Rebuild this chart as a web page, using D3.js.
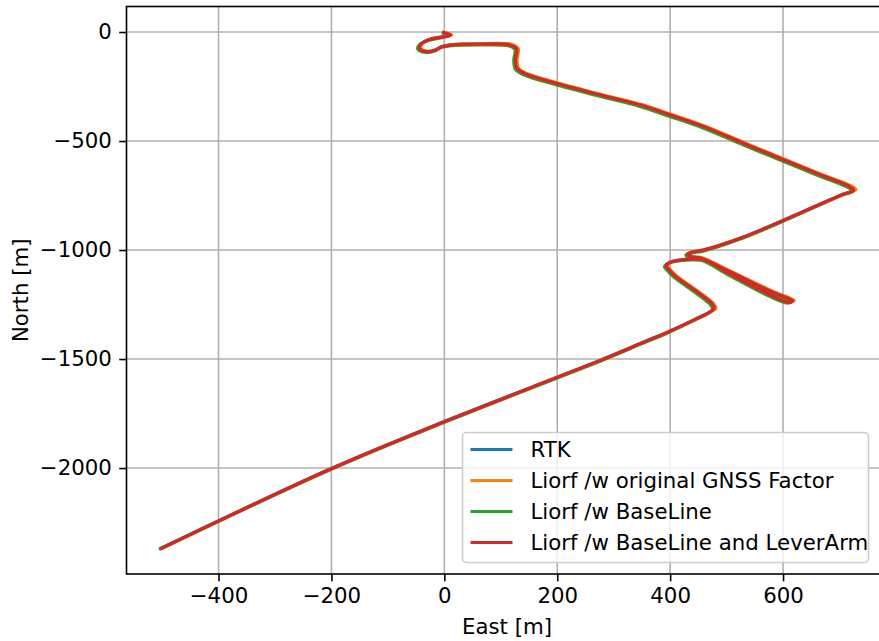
<!DOCTYPE html>
<html>
<head>
<meta charset="utf-8">
<script src="https://cdn.jsdelivr.net/npm/d3@7"></script>
<style>
  body { margin: 0; background: #fff; }
  svg { display: block; font-family: "DejaVu Sans", sans-serif; }
</style>
</head>
<body>
<div class="chart-container"></div>
<script>
// tick values
const eastTicks = [-400, -200, 0, 200, 400, 600]
const northTicks = [0, -500, -1000, -1500, -2000]

// trajectories, [east, north] in metres
const rtk = [
  [-1,-3],[11,-14],[-7,-24],[-25,-33],[-41,-55],[-44,-75],[-31,-90],[-16,-83],[-4,-67],[11,-60],
  [70,-55],[117,-60],[128,-78],[126,-128],[129,-167],[147,-195],[200,-237],[277,-290],[348,-336],[401,-382],
  [460,-435],[531,-512],[602,-588],[667,-657],[716,-707],[725,-726],[707,-744],[602,-863],[525,-946],[459,-1001],
  [441,-1009],[431,-1019],[436,-1031],[454,-1038],[507,-1102],[578,-1190],[612,-1226],[617,-1234],[609,-1240],[576,-1205],
  [505,-1109],[458,-1043],[432,-1043],[400,-1057],[393,-1073],[398,-1091],[407,-1116],[475,-1249],[478,-1269],[470,-1286],
  [448,-1314],[401,-1371],[348,-1429],[277,-1506],[-2,-1789],[-200,-2002],[-503,-2369]
]
const liorfOriginal = [
  [0,-1],[13,-12],[-5,-22],[-23,-31],[-39,-53],[-42,-73],[-29,-88],[-14,-81],[-2,-65],[13,-58],
  [72,-53],[120,-57],[131,-76],[129,-126],[131,-165],[149,-193],[202,-234],[279,-287],[350,-333],[403,-379],
  [462,-432],[533,-509],[604,-585],[669,-654],[719,-704],[729,-724],[710,-742],[604,-860],[527,-943],[461,-998],
  [443,-1006],[433,-1016],[438,-1028],[456,-1035],[509,-1099],[580,-1187],[614,-1223],[620,-1232],[611,-1238],[578,-1202],
  [507,-1106],[460,-1040],[434,-1040],[402,-1054],[395,-1070],[400,-1088],[409,-1113],[477,-1246],[481,-1267],[472,-1283],
  [450,-1311],[403,-1368],[350,-1426],[279,-1503],[1,-1786],[-197,-1999],[-498,-2365]
]
const liorfBaseline = [
  [-2,-5],[9,-17],[-9,-28],[-27,-38],[-44,-58],[-47,-78],[-33,-94],[-17,-87],[-6,-71],[9,-64],
  [69,-59],[115,-64],[125,-80],[123,-130],[126,-171],[144,-200],[198,-242],[275,-295],[346,-341],[399,-387],
  [458,-440],[529,-517],[600,-593],[665,-662],[714,-712],[723,-731],[705,-748],[600,-868],[523,-951],[457,-1006],
  [439,-1013],[428,-1022],[433,-1035],[451,-1042],[505,-1107],[576,-1195],[610,-1230],[615,-1238],[607,-1244],[574,-1210],
  [503,-1114],[456,-1048],[430,-1047],[397,-1060],[390,-1076],[395,-1094],[405,-1121],[472,-1253],[475,-1273],[467,-1290],
  [446,-1318],[399,-1376],[346,-1434],[275,-1511],[-3,-1794],[-201,-2007],[-502,-2370]
]
const liorfLeverArm = [
  [-1,-3],[11,-14],[-7,-24],[-25,-33],[-41,-55],[-44,-75],[-31,-90],[-16,-83],[-4,-67],[11,-60],
  [70,-55],[117,-60],[128,-78],[126,-128],[129,-167],[147,-195],[200,-236],[277,-289],[348,-335],[401,-381],
  [460,-434],[531,-511],[602,-587],[667,-656],[716,-706],[725,-725],[707,-743],[602,-862],[525,-945],[459,-1000],
  [441,-1008],[431,-1018],[436,-1030],[454,-1037],[507,-1101],[578,-1189],[612,-1225],[617,-1233],[609,-1239],[576,-1204],
  [505,-1108],[458,-1042],[432,-1042],[400,-1056],[393,-1072],[398,-1090],[407,-1115],[475,-1248],[478,-1268],[470,-1285],
  [448,-1313],[401,-1370],[348,-1428],[277,-1505],[-1,-1788],[-199,-2001],[-500,-2367]
]

const seriesNames = ["RTK", "Liorf /w original GNSS Factor", "Liorf /w BaseLine", "Liorf /w BaseLine and LeverArm"]
const seriesColors = ["#1f77b4", "#ff7f0e", "#2ca02c", "#d62728"]
const seriesData = [rtk, liorfOriginal, liorfBaseline, liorfLeverArm]

function createChart(){
  var width = 879, height = 641
  var margin = {top: 6.5, right: -8.5, bottom: 67, left: 126.5}
  var fs = 21.3

  const svg = d3.select(".chart-container").append("svg")
    .attr("width", width)
    .attr("height", height)

  //Scales: the right spine sits just beyond the picture
  const x = d3.scaleLinear()
    .domain([-563, 785])
    .range([margin.left, width - margin.right])
  const y = d3.scaleLinear()
    .domain([117, -2486])
    .range([margin.top, height - margin.bottom])

  const fmt = d => d < 0 ? "\u2212" + Math.abs(d) : String(d)

  //Grid
  svg.append("g")
    .selectAll("line.gx").data(eastTicks).join("line")
    .attr("x1", d => x(d)).attr("x2", d => x(d))
    .attr("y1", y.range()[0]).attr("y2", y.range()[1])
    .attr("stroke", "#b0b0b0").attr("stroke-width", 1.6)
  svg.append("g")
    .selectAll("line.gy").data(northTicks).join("line")
    .attr("x1", x.range()[0]).attr("x2", x.range()[1])
    .attr("y1", d => y(d)).attr("y2", d => y(d))
    .attr("stroke", "#b0b0b0").attr("stroke-width", 1.6)

  //Trajectories
  const line = d3.line()
    .x(d => x(d[0]))
    .y(d => y(d[1]))
    .curve(d3.curveCatmullRom.alpha(0.5))

  const plot = svg.append("g")
  seriesData.forEach((s, i) => {
    plot.append("path")
      .datum(s)
      .attr("fill", "none")
      .attr("stroke", seriesColors[i])
      .attr("stroke-width", 3.2)
      .attr("stroke-linejoin", "round")
      .attr("stroke-linecap", "square")
      .attr("d", line)
  })

  //Axes
  const xAxis = svg.append("g")
    .attr("transform", `translate(0,${y.range()[1]})`)
    .call(d3.axisBottom(x).tickValues(eastTicks).tickFormat(fmt).tickSize(7.3).tickPadding(6.5).tickSizeOuter(0))
  const yAxis = svg.append("g")
    .attr("transform", `translate(${x.range()[0]},0)`)
    .call(d3.axisLeft(y).tickValues(northTicks).tickFormat(fmt).tickSize(7.3).tickPadding(7.3).tickSizeOuter(0))

  ;[xAxis, yAxis].forEach(g => {
    g.selectAll("text").attr("font-size", fs).attr("font-family", "DejaVu Sans").attr("fill", "#000")
    g.selectAll(".tick line").attr("stroke", "#000").attr("stroke-width", 1.6)
    g.select(".domain").remove()
  })

  //Spines
  svg.append("rect")
    .attr("x", x.range()[0]).attr("y", y.range()[0])
    .attr("width", x.range()[1] - x.range()[0])
    .attr("height", y.range()[1] - y.range()[0])
    .attr("fill", "none").attr("stroke", "#000").attr("stroke-width", 1.6)

  //Axis labels
  svg.append("text")
    .attr("x", (x.range()[0] + x.range()[1]) / 2)
    .attr("y", 634)
    .attr("text-anchor", "middle")
    .attr("font-size", fs)
    .text("East [m]")
  svg.append("text")
    .attr("transform", `translate(28,${(y.range()[0] + y.range()[1]) / 2}) rotate(-90)`)
    .attr("text-anchor", "middle")
    .attr("font-size", fs)
    .text("North [m]")

  //Legend
  const lg = svg.append("g").attr("transform", "translate(462.5,432.5)")
  lg.append("rect")
    .attr("width", 406).attr("height", 130)
    .attr("rx", 4.2)
    .attr("fill", "#fff").attr("fill-opacity", 0.8)
    .attr("stroke", "#cccccc").attr("stroke-width", 1.6)
  seriesNames.forEach((name, i) => {
    const ry = 17 + i * 31
    lg.append("line")
      .attr("x1", 8).attr("x2", 50)
      .attr("y1", ry).attr("y2", ry)
      .attr("stroke", seriesColors[i]).attr("stroke-width", 3.2)
    lg.append("text")
      .attr("x", 68).attr("y", ry)
      .attr("dy", "0.36em")
      .attr("font-size", fs)
      .text(name)
  })
}

createChart()
</script>
</body>
</html>
